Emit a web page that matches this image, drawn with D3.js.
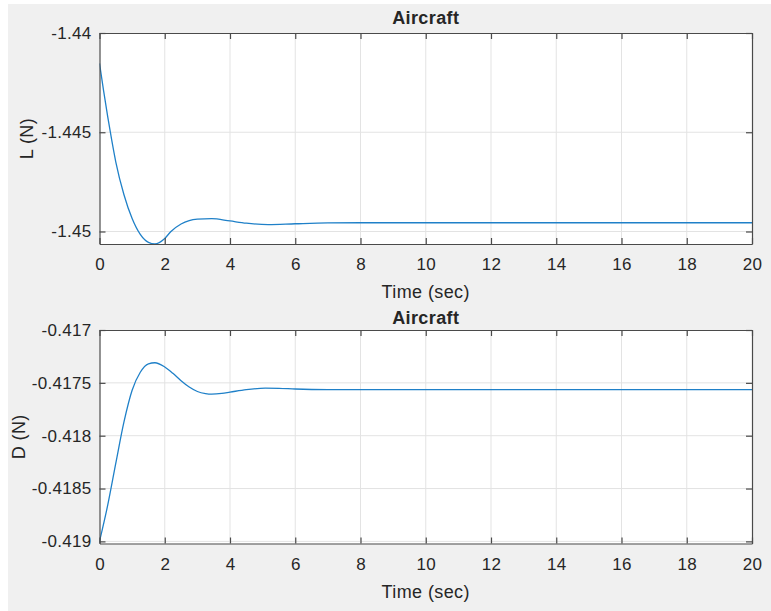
<!DOCTYPE html>
<html><head><meta charset="utf-8">
<script src="https://cdn.jsdelivr.net/npm/d3@7"></script>
<style>
html,body{margin:0;padding:0;background:#fff;}
svg text{font-family:"Liberation Sans",Arial,Helvetica,sans-serif;fill:#262626;}
</style></head>
<body>
<script>
// ---- data ----
const timeL = [0,0.125,0.25,0.375,0.5,0.75,1.0,1.25,1.5,1.7,2.0,2.19,2.5,2.75,3.0,3.44,4.0,4.5,5.17,6.0,7.0,8,10,12,14,16,18,20];
const valuesL = [-1.44153,-1.44290,-1.44420,-1.44540,-1.44650,-1.44815,-1.44935,-1.45015,-1.45055,-1.45063,-1.45035,-1.45000,-1.44962,-1.44945,-1.44938,-1.44935,-1.44947,-1.44958,-1.44965,-1.44961,-1.44957,-1.44956,-1.44956,-1.44956,-1.44956,-1.44956,-1.44956,-1.44956];
const timeD = [0,0.25,0.5,0.75,1.0,1.25,1.5,1.7,2.0,2.25,2.5,2.75,3.0,3.25,3.44,3.75,4.0,4.5,5.08,5.5,6.0,7.0,8,10,12,14,16,18,20];
const valuesD = [-0.41900,-0.41866,-0.41826,-0.41787,-0.41757,-0.41740,-0.41732,-0.41731,-0.41735,-0.41741,-0.41748,-0.41754,-0.417582,-0.417602,-0.417607,-0.417600,-0.417588,-0.417564,-0.417550,-0.417552,-0.417558,-0.417564,-0.417565,-0.417565,-0.417565,-0.417565,-0.417565,-0.417565,-0.417565];
const xTicks = [0,2,4,6,8,10,12,14,16,18,20];
const yTicksL = [-1.45,-1.445,-1.44];
const yTickLabelsL = ["-1.45","-1.445","-1.44"];
const yTicksD = [-0.419,-0.4185,-0.418,-0.4175,-0.417];
const yTickLabelsD = ["-0.419","-0.4185","-0.418","-0.4175","-0.417"];
const titles = ["Aircraft","Aircraft"];
const xLabel = "Time (sec)";
const yLabels = ["L (N)","D (N)"];

const W = 771, H = 611;
const svg = d3.select("body").append("svg").attr("width",W).attr("height",H);
svg.append("rect").attr("x",8).attr("y",4).attr("width",W-8).attr("height",H-4).attr("fill","#f0f0f0");

const panels = [
  {t:timeL, v:valuesL, top:33, bottom:244, domain:[-1.45063,-1.44], ticks:yTicksL, labels:yTickLabelsL, title:titles[0], ylab:yLabels[0], ylabX:33, titleY:24},
  {t:timeD, v:valuesD, top:330, bottom:543.5, domain:[-0.41902,-0.417], ticks:yTicksD, labels:yTickLabelsD, title:titles[1], ylab:yLabels[1], ylabX:25, titleY:324}
];
const left = 99.5, right = 752;
const x = d3.scaleLinear().domain([0,20]).range([left,right]);
const axisCol = "#4a4a4a";

panels.forEach((p,i)=>{
  const y = d3.scaleLinear().domain(p.domain).range([p.bottom,p.top]);
  const g = svg.append("g");
  g.append("rect").attr("x",left).attr("y",p.top).attr("width",right-left).attr("height",p.bottom-p.top).attr("fill","#fff");
  // grid
  g.selectAll(".gx").data(xTicks.slice(1,-1)).join("line")
    .attr("x1",d=>x(d)).attr("x2",d=>x(d)).attr("y1",p.top).attr("y2",p.bottom)
    .attr("stroke","#e3e3e3").attr("stroke-width",1);
  g.selectAll(".gy").data(p.ticks.filter(d=>y(d)>p.top+1 && y(d)<p.bottom-1)).join("line")
    .attr("x1",left).attr("x2",right).attr("y1",d=>y(d)).attr("y2",d=>y(d))
    .attr("stroke","#e3e3e3").attr("stroke-width",1);
  // clip + line
  const cid = "clip"+i;
  svg.append("clipPath").attr("id",cid).append("rect")
    .attr("x",left).attr("y",p.top).attr("width",right-left).attr("height",p.bottom-p.top+1);
  const line = d3.line().x((d,k)=>x(p.t[k])).y(d=>y(d)).curve(d3.curveMonotoneX);
  g.append("path").attr("d",line(p.v)).attr("fill","none").attr("stroke","#1f80c8")
    .attr("stroke-width",1.3).attr("clip-path",`url(#${cid})`);
  // axes with inward ticks
  const axB = d3.axisBottom(x).tickValues(xTicks).tickSizeInner(-6).tickSizeOuter(0).tickPadding(14).tickFormat(d3.format("d"));
  const axT = d3.axisTop(x).tickValues(xTicks).tickSizeInner(-6).tickSizeOuter(0).tickFormat("");
  const axL = d3.axisLeft(y).tickValues(p.ticks).tickSizeInner(-6).tickSizeOuter(0).tickPadding(8).tickFormat((d,k)=>p.labels[k]);
  const axR = d3.axisRight(y).tickValues(p.ticks).tickSizeInner(-6).tickSizeOuter(0).tickFormat("");
  const gb = g.append("g").attr("transform",`translate(0,${p.bottom})`).call(axB);
  const gt = g.append("g").attr("transform",`translate(0,${p.top})`).call(axT);
  const gl = g.append("g").attr("transform",`translate(${left},0)`).call(axL);
  const gr = g.append("g").attr("transform",`translate(${right},0)`).call(axR);
  [gb,gt,gl,gr].forEach(a=>{
    a.select(".domain").attr("stroke",axisCol).attr("stroke-width",1.2);
    a.selectAll(".tick line").attr("stroke",axisCol).attr("stroke-width",1.2);
    a.selectAll(".tick text").attr("font-size",17).attr("fill","#262626")
      .attr("font-family","'Liberation Sans',Arial,sans-serif").style("letter-spacing","0.3px");
  });
  // title
  svg.append("text").attr("x",(left+right)/2).attr("y",p.titleY).attr("text-anchor","middle")
    .attr("font-size",18).attr("font-weight","bold").style("letter-spacing","0.4px").text(p.title);
  // x label
  svg.append("text").attr("x",(left+right)/2).attr("y",p.bottom+54).attr("text-anchor","middle")
    .attr("font-size",18).style("letter-spacing","0.4px").text(xLabel);
  // y label
  svg.append("text").attr("transform",`translate(${p.ylabX},${(p.top+p.bottom)/2}) rotate(-90)`)
    .attr("text-anchor","middle").attr("font-size",18).style("letter-spacing","0.4px").text(p.ylab);
});
</script>
</body></html>
